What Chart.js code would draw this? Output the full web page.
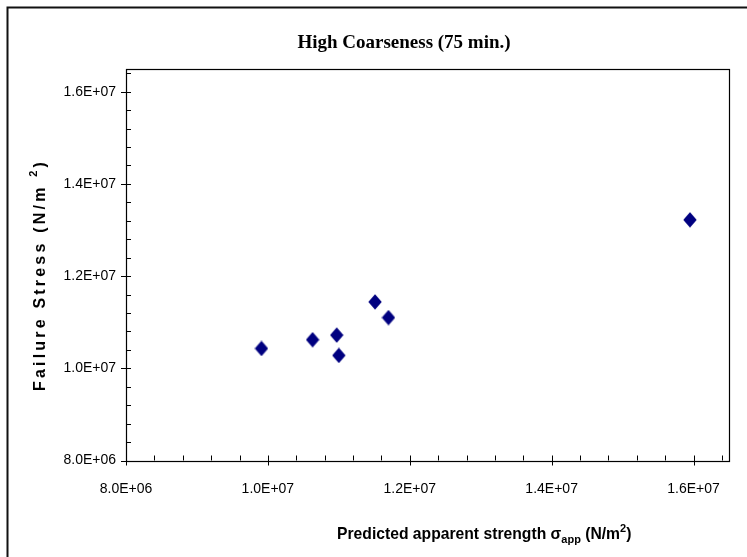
<!DOCTYPE html>
<html><head><meta charset="utf-8">
<script src="https://cdn.jsdelivr.net/npm/chart.js@4.4.1/dist/chart.umd.min.js"></script>
<style>html,body{margin:0;padding:0;background:#fff}#wrap{width:747px;height:557px;position:relative}</style>
</head><body><div id="wrap"><canvas id="c" width="747" height="557"></canvas></div>
<script>
const chartTitle = 'High Coarseness (75 min.)';
const xTitleParts = ['Predicted apparent strength ', 'σ', 'app', ' (N/m', '2', ')'];
const yTitleParts = ['Failure Stress (N/m ', '2', ')'];
const xValues = [9.91e6, 1.063e7, 1.097e7, 1.100e7, 1.151e7, 1.170e7, 1.595e7];
const yValues = [1.043e7, 1.062e7, 1.072e7, 1.028e7, 1.144e7, 1.110e7, 1.322e7];
const xTicks = [8e6, 1e7, 1.2e7, 1.4e7, 1.6e7];
const xTickLabels = ['8.0E+06', '1.0E+07', '1.2E+07', '1.4E+07', '1.6E+07'];
const yTicks = [8e6, 1e7, 1.2e7, 1.4e7, 1.6e7];
const yTickLabels = ['8.0E+06', '1.0E+07', '1.2E+07', '1.4E+07', '1.6E+07'];
const minorStep = 4e5;

function diamond() {
  const c = document.createElement('canvas');
  c.width = 14; c.height = 16;
  const g = c.getContext('2d');
  g.fillStyle = '#000080';
  g.beginPath(); g.moveTo(7, 0.3); g.lineTo(13.7, 8); g.lineTo(7, 15.7); g.lineTo(0.3, 8); g.closePath(); g.fill();
  return c;
}

const decor = {
  id: 'decor',
  beforeDraw(chart) {
    const ctx = chart.ctx;
    ctx.save(); ctx.fillStyle = '#fff'; ctx.fillRect(0, 0, chart.width, chart.height); ctx.restore();
  },
  afterDatasetsDraw(chart) {
    const { ctx, chartArea: a, scales: { x, y } } = chart;
    ctx.save();
    // outer frame
    ctx.strokeStyle = '#111'; ctx.lineWidth = 2;
    ctx.beginPath(); ctx.moveTo(7.5, 557); ctx.lineTo(7.5, 7.5); ctx.lineTo(747, 7.5); ctx.stroke();
    // plot border
    ctx.strokeStyle = '#000'; ctx.lineWidth = 1.2;
    ctx.strokeRect(Math.round(a.left) + 0.5, Math.round(a.top) + 0.5, Math.round(a.right - a.left), Math.round(a.bottom - a.top));
    // ticks
    ctx.lineWidth = 1;
    ctx.beginPath();
    for (let v = x.min; v <= x.max + 1; v += minorStep) {
      const px = Math.round(x.getPixelForValue(v)) + 0.5;
      const major = xTicks.some(t => Math.abs(t - v) < 1);
      ctx.moveTo(px, a.bottom - 5);
      ctx.lineTo(px, a.bottom + (major ? 5 : 0));
    }
    for (let v = y.min; v <= y.max + 1; v += minorStep) {
      const py = Math.round(y.getPixelForValue(v)) + 0.5;
      const major = yTicks.some(t => Math.abs(t - v) < 1);
      ctx.moveTo(a.left + 5, py);
      ctx.lineTo(a.left - (major ? 5 : 0), py);
    }
    ctx.stroke();

    ctx.fillStyle = '#000';
    // chart title
    ctx.font = 'bold 19px "Liberation Serif", serif';
    ctx.textAlign = 'center'; ctx.textBaseline = 'alphabetic';
    ctx.fillText(chartTitle, 404, 48);

    // x title
    ctx.textAlign = 'left';
    const big = 'bold 15.7px "Liberation Sans", Arial, sans-serif';
    const small = 'bold 11px "Liberation Sans", Arial, sans-serif';
    const xSpec = [[big, 0], [big, 0], [small, 4], [big, 0], [small, -7], [big, 0]];
    let cx = 337; const by = 539;
    xTitleParts.forEach((t, i) => {
      ctx.font = xSpec[i][0];
      ctx.fillText(t, cx, by + xSpec[i][1]);
      cx += ctx.measureText(t).width;
    });

    // y title
    ctx.save();
    ctx.translate(45, 275);
    ctx.rotate(-Math.PI / 2);
    ctx.letterSpacing = '3.2px';
    const yBig = 'bold 16px "Liberation Sans", Arial, sans-serif';
    const ySpec = [[yBig, 0], [small, -8], [yBig, 0]];
    let total = 0;
    yTitleParts.forEach((t, i) => { ctx.font = ySpec[i][0]; total += ctx.measureText(t).width; });
    let ty = -total / 2;
    yTitleParts.forEach((t, i) => {
      ctx.font = ySpec[i][0];
      ctx.fillText(t, ty, ySpec[i][1]);
      ty += ctx.measureText(t).width;
    });
    ctx.restore();
    ctx.restore();
  }
};

const tickFont = { family: '"Liberation Sans", Arial, sans-serif', size: 14 };

new Chart(document.getElementById('c'), {
  type: 'scatter',
  data: {
    datasets: [{
      label: 'Failure stress',
      data: xValues.map((v, i) => ({ x: v, y: yValues[i] })),
      pointStyle: diamond(),
      pointRadius: 7,
      pointHoverRadius: 7,
      pointBorderWidth: 0,
      backgroundColor: '#000080',
      borderColor: '#000080'
    }]
  },
  options: {
    responsive: false,
    animation: false,
    devicePixelRatio: 1,
    layout: { padding: { left: 0, top: 68.6, right: 18, bottom: 0 } },
    plugins: { legend: { display: false }, tooltip: { enabled: false }, title: { display: false } },
    scales: {
      x: {
        type: 'linear', min: 8e6, max: 1.65e7,
        grid: { display: false, drawTicks: false },
        border: { display: false },
        afterBuildTicks: s => { s.ticks = xTicks.map(v => ({ value: v })); },
        afterFit: s => { s.height = 557 - 460.5; },
        ticks: {
          font: tickFont, color: '#000', padding: 20, maxRotation: 0,
          callback: (v) => { const i = xTicks.findIndex(t => Math.abs(t - v) < 1); return i >= 0 ? xTickLabels[i] : ''; }
        }
      },
      y: {
        type: 'linear', min: 8e6, max: 1.65e7,
        grid: { display: false, drawTicks: false },
        border: { display: false },
        afterBuildTicks: s => { s.ticks = yTicks.map(v => ({ value: v })); },
        afterFit: s => { s.width = 126; },
        ticks: {
          font: tickFont, color: '#000', padding: 10,
          callback: (v) => { const i = yTicks.findIndex(t => Math.abs(t - v) < 1); return i >= 0 ? yTickLabels[i] : ''; }
        }
      }
    }
  },
  plugins: [decor]
});
</script></body></html>
